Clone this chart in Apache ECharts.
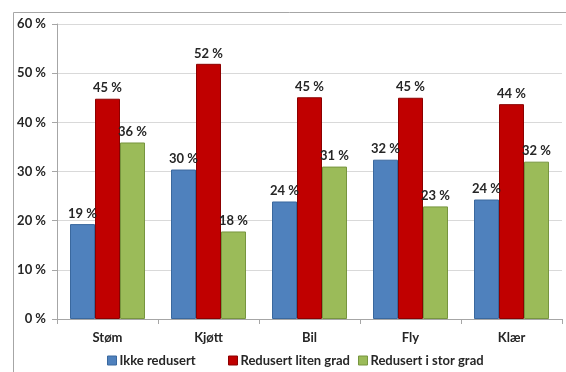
<!DOCTYPE html>
<html><head><meta charset="utf-8">
<script src="https://cdn.jsdelivr.net/npm/echarts@6/dist/echarts.min.js"></script>
<style>html,body{margin:0;padding:0;background:#fff}#c{width:566px;height:372px}</style>
</head><body><div id="c"></div>
<script>
const categories = ['Støm', 'Kjøtt', 'Bil', 'Fly', 'Klær'];
const seriesNames = ['Ikke redusert', 'Redusert liten grad', 'Redusert i stor grad'];
const ikkeRedusert = [19.3, 30.4, 23.9, 32.4, 24.3];
const redusertLiten = [44.8, 51.9, 45.1, 45.0, 43.7];
const redusertStor = [35.9, 17.8, 31.0, 22.9, 32.0];
const yTicks = [0, 10, 20, 30, 40, 50, 60];

const font = 'Lato, "Open Sans", sans-serif';
const colors = ['#4F81BD', '#C00000', '#9BBB59'];
const borders = ['#3A689E', '#8C0000', '#77953F'];
const data = [ikkeRedusert, redusertLiten, redusertStor];
const legendLeft = [107, 228, 358];

const chart = echarts.init(document.getElementById('c'));
chart.setOption({
  animation: false,
  graphic: [{
    type: 'polyline', shape: { points: [[13.5, 372], [13.5, 12.5], [566, 12.5]] },
    style: { stroke: '#A6A6A6', lineWidth: 1, fill: null }
  }],
  grid: { left: 57, right: 4, top: 24, bottom: 53 },
  legend: seriesNames.map((n, i) => ({
    data: [n], top: 354, left: legendLeft[i], padding: 0, itemWidth: 9, itemHeight: 9,
    icon: 'rect', itemStyle: { borderColor: borders[i], borderWidth: 1 },
    textStyle: { fontFamily: font, fontWeight: 'bold', fontSize: 13, color: '#262626', padding: [0, 0, 0, -2] }
  })),
  xAxis: {
    type: 'category', data: categories,
    axisLine: { lineStyle: { color: '#A6A6A6' } },
    axisTick: { show: true, length: 5, lineStyle: { color: '#A6A6A6' } },
    axisLabel: { margin: 12, fontFamily: font, fontWeight: 'bold', fontSize: 13, color: '#262626' }
  },
  yAxis: {
    type: 'value', min: yTicks[0], max: yTicks[yTicks.length - 1], interval: 10,
    axisLine: { show: true, lineStyle: { color: '#A6A6A6' } },
    axisTick: { show: true, length: 5, lineStyle: { color: '#A6A6A6' } },
    splitLine: { lineStyle: { color: '#D9D9D9' } },
    axisLabel: { margin: 11, fontFamily: font, fontWeight: 'bold', fontSize: 13, color: '#262626',
      formatter: v => v + ' %' }
  },
  series: data.map((d, i) => ({
    name: seriesNames[i], type: 'bar', data: d,
    barWidth: 25, barGap: '0%',
    itemStyle: { color: colors[i], borderColor: borders[i], borderWidth: 1 },
    label: { show: true, position: 'top', distance: 4, fontFamily: font, fontWeight: 'bold', fontSize: 13,
      color: '#262626', formatter: p => Math.round(p.value) + ' %' }
  }))
});
</script></body></html>
